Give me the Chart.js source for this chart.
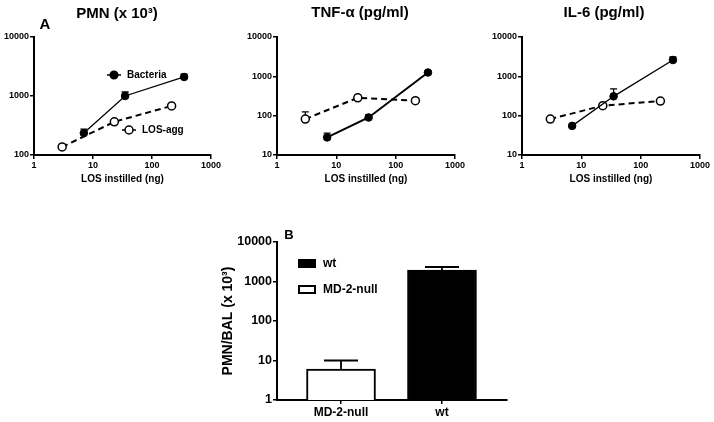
<!DOCTYPE html>
<html><head><meta charset="utf-8">
<script src="https://cdn.jsdelivr.net/npm/chart.js@4.4.1/dist/chart.umd.min.js"></script>
<style>
html,body{margin:0;padding:0;background:#fff;width:714px;height:422px;overflow:hidden;}
canvas{position:absolute;}
</style></head><body>
<canvas id="c1" width="240" height="190" style="left:0px;top:0px"></canvas>
<canvas id="c2" width="240" height="190" style="left:240px;top:0px"></canvas>
<canvas id="c3" width="240" height="190" style="left:474px;top:0px"></canvas>
<canvas id="c4" width="320" height="207" style="left:200px;top:215px"></canvas>
<script>
// ---- data ----
const doseBacteria = [7, 35, 350];
const doseLOS = [3, 23, 215];
const pmnBacteria = [235, 1000, 2100];
const pmnBacteriaErr = [275, 1170, 2350];
const pmnLOS = [137, 365, 680];
const pmnLOSErr = [145, 390, 720];
const tnfBacteria = [28, 90, 1250];
const tnfBacteriaErr = [36, 105, 1350];
const tnfLOS = [82, 285, 240];
const tnfLOSErr = [125, 330, 270];
const il6Bacteria = [55, 310, 2600];
const il6BacteriaErr = [58, 480, 3100];
const il6LOS = [82, 180, 235];
const il6LOSErr = [95, 195, 255];
const xTicks = [1, 10, 100, 1000];
const yTicksPMN = [100, 1000, 10000];
const yTicksCyto = [10, 100, 1000, 10000];
const seriesNames = ['Bacteria', 'LOS-agg'];
const panelTitles = ['PMN (x 10³)', 'TNF-α (pg/ml)', 'IL-6 (pg/ml)'];
const xTitle = 'LOS instilled (ng)';
const bCategories = ['MD-2-null', 'wt'];
const bValues = [6.1, 1950];
const bErr = [10, 2330];
const bTicks = [1, 10, 100, 1000, 10000];
const bYTitle = 'PMN/BAL (x 10³)';

const FF = "'Liberation Sans', Arial, Helvetica, sans-serif";
Chart.defaults.font.family = FF;
Chart.defaults.font.weight = 'bold';
Chart.defaults.color = '#000';

function drawErr(chart, opts) {
  const ctx = chart.ctx;
  const ys = chart.scales.y;
  chart.data.datasets.forEach((ds, i) => {
    if (!ds.errTop) return;
    const meta = chart.getDatasetMeta(i);
    meta.data.forEach((el, j) => {
      const d = ds.data[j];
      const v = (typeof d === 'object') ? d.y : d;
      const x = el.x;
      const y0 = ys.getPixelForValue(v);
      const y1 = ys.getPixelForValue(ds.errTop[j]);
      ctx.save();
      ctx.strokeStyle = '#000';
      ctx.lineWidth = opts.width;
      ctx.setLineDash([]);
      ctx.beginPath();
      ctx.moveTo(x, y0); ctx.lineTo(x, y1);
      ctx.moveTo(x - opts.cap, y1); ctx.lineTo(x + opts.cap, y1);
      ctx.stroke();
      ctx.restore();
    });
  });
}
const errorBars = {
  id: 'errorBars',
  beforeDatasetsDraw(chart, args, opts) { if (opts.mode === 'line') drawErr(chart, opts); },
  afterDatasetsDraw(chart, args, opts) { if (opts.mode === 'bar') drawErr(chart, opts); }
};
const texts = {
  id: 'texts',
  afterDraw(chart, args, opts) {
    const ctx = chart.ctx;
    (opts.items || []).forEach(it => {
      ctx.save();
      if (it.kind === 'line') {
        ctx.strokeStyle = '#000'; ctx.lineWidth = it.w || 1.5;
        ctx.setLineDash(it.dash || []);
        ctx.beginPath(); ctx.moveTo(it.x1, it.y); ctx.lineTo(it.x2, it.y); ctx.stroke();
      } else if (it.kind === 'dot') {
        ctx.beginPath(); ctx.arc(it.x, it.y, it.r, 0, Math.PI * 2);
        ctx.fillStyle = it.fill; ctx.fill();
        ctx.strokeStyle = '#000'; ctx.lineWidth = 1.5; ctx.stroke();
      } else if (it.kind === 'box') {
        ctx.fillStyle = it.fill; ctx.fillRect(it.x, it.y, it.w, it.h);
        ctx.strokeStyle = '#000'; ctx.lineWidth = 2; ctx.strokeRect(it.x, it.y, it.w, it.h);
      } else {
        ctx.font = 'bold ' + it.size + 'px ' + FF;
        ctx.fillStyle = '#000';
        ctx.textAlign = it.align || 'center';
        ctx.textBaseline = 'middle';
        ctx.fillText(it.text, it.x, it.y);
      }
      ctx.restore();
    });
  }
};

function axisCommon() {
  return {
    border: { display: true, color: '#000', width: 2 },
    grid: { display: true, offset: false, drawOnChartArea: false, drawTicks: true, tickLength: 4, color: '#000', lineWidth: 1.5 }
  };
}

function lineChart(id, yWidth, padRight, yMin, yTicks, bac, bacErr, los, losErr, bacWidth, items) {
  return new Chart(document.getElementById(id), {
    type: 'line',
    data: {
      datasets: [
        { label: seriesNames[0], data: doseBacteria.map((x, i) => ({ x, y: bac[i] })), errTop: bacErr,
          borderColor: '#000', borderWidth: bacWidth, pointRadius: 3.8, pointBackgroundColor: '#000',
          pointBorderColor: '#000', pointBorderWidth: 1, fill: false, tension: 0 },
        { label: seriesNames[1], data: doseLOS.map((x, i) => ({ x, y: los[i] })), errTop: losErr,
          borderColor: '#000', borderWidth: 2, borderDash: [6, 4], pointRadius: 4, pointBackgroundColor: '#fff',
          pointBorderColor: '#000', pointBorderWidth: 1.5, fill: false, tension: 0 }
      ]
    },
    options: {
      responsive: false, animation: false, devicePixelRatio: 1,
      layout: { padding: { top: 37, right: padRight, bottom: 5, left: 0 } },
      plugins: { legend: { display: false }, tooltip: { enabled: false },
        errorBars: { mode: 'line', width: 1.3, cap: 3.5 }, texts: { items } },
      scales: {
        x: Object.assign(axisCommon(), {
          type: 'logarithmic', min: 1, max: 1000,
          afterBuildTicks: s => { s.ticks = xTicks.map(v => ({ value: v })); },
          afterFit: s => { s.height = 30; },
          ticks: { callback: v => String(v), font: { size: 9, weight: 'bold' }, padding: 1, maxRotation: 0, autoSkip: false },
          title: { display: true, text: xTitle, font: { size: 10, weight: 'bold' }, padding: 0 }
        }),
        y: Object.assign(axisCommon(), {
          type: 'logarithmic', min: yMin, max: 10000,
          afterBuildTicks: s => { s.ticks = yTicks.map(v => ({ value: v })); },
          afterFit: s => { s.width = yWidth; },
          ticks: { callback: v => String(v), font: { size: 9, weight: 'bold' }, padding: 1, autoSkip: false }
        })
      }
    },
    plugins: [errorBars, texts]
  });
}

lineChart('c1', 34, 29, 100, yTicksPMN, pmnBacteria, pmnBacteriaErr, pmnLOS, pmnLOSErr, 1.3, [
  { text: panelTitles[0], x: 117, y: 14, size: 15 },
  { text: 'A', x: 45, y: 25, size: 15 },
  { kind: 'line', x1: 107, x2: 121, y: 75, w: 1.5 },
  { kind: 'dot', x: 114, y: 75, r: 3.8, fill: '#000' },
  { text: seriesNames[0], x: 127, y: 75, size: 10, align: 'left' },
  { kind: 'line', x1: 122, x2: 136, y: 130, w: 1.5 },
  { kind: 'dot', x: 129, y: 130, r: 4, fill: '#fff' },
  { text: seriesNames[1], x: 142, y: 130, size: 10, align: 'left' }
]);
lineChart('c2', 37, 25, 10, yTicksCyto, tnfBacteria, tnfBacteriaErr, tnfLOS, tnfLOSErr, 2, [
  { text: panelTitles[1], x: 120, y: 13, size: 15 }
]);
lineChart('c3', 48, 14, 10, yTicksCyto, il6Bacteria, il6BacteriaErr, il6LOS, il6LOSErr, 1.3, [
  { text: panelTitles[2], x: 130, y: 13, size: 15 }
]);

new Chart(document.getElementById('c4'), {
  type: 'bar',
  data: {
    datasets: [{
      label: 'PMN',
      data: bCategories.map((c, i) => ({ x: i, y: bValues[i] })),
      errTop: bErr,
      backgroundColor: ['#fff', '#000'], borderColor: '#000', borderWidth: 2,
      barThickness: 69, borderSkipped: 'bottom'
    }]
  },
  options: {
    responsive: false, animation: false, devicePixelRatio: 1,
    layout: { padding: { top: 27, right: 13, bottom: 0, left: 0 } },
    plugins: { legend: { display: false }, tooltip: { enabled: false },
      errorBars: { mode: 'bar', width: 1.8, cap: 17 },
      texts: { items: [
        { text: 'B', x: 89, y: 20, size: 13 },
        { kind: 'box', x: 99, y: 45, w: 16, h: 7, fill: '#000' },
        { text: bCategories[1], x: 123, y: 48.5, size: 12, align: 'left' },
        { kind: 'box', x: 99, y: 71, w: 16, h: 7, fill: '#fff' },
        { text: bCategories[0], x: 123, y: 74.5, size: 12, align: 'left' }
      ] } },
    scales: {
      x: Object.assign(axisCommon(), {
        type: 'linear', min: -0.634, max: 1.644, offset: false,
        afterBuildTicks: s => { s.ticks = bCategories.map((c, i) => ({ value: i })); },
        afterFit: s => { s.height = 22; },
        ticks: { callback: v => bCategories[v], font: { size: 12, weight: 'bold' }, padding: 1, maxRotation: 0, autoSkip: false }
      }),
      y: Object.assign(axisCommon(), {
        type: 'logarithmic', min: 1, max: 10000,
        afterBuildTicks: s => { s.ticks = bTicks.map(v => ({ value: v })); },
        afterFit: s => { s.width = 77; },
        ticks: { callback: v => String(v), font: { size: 12.5, weight: 'bold' }, padding: 1, autoSkip: false },
        title: { display: true, text: bYTitle, font: { size: 14, weight: 'bold' }, padding: { top: 20, bottom: 0 } }
      })
    }
  },
  plugins: [errorBars, texts]
});
</script>
</body></html>
